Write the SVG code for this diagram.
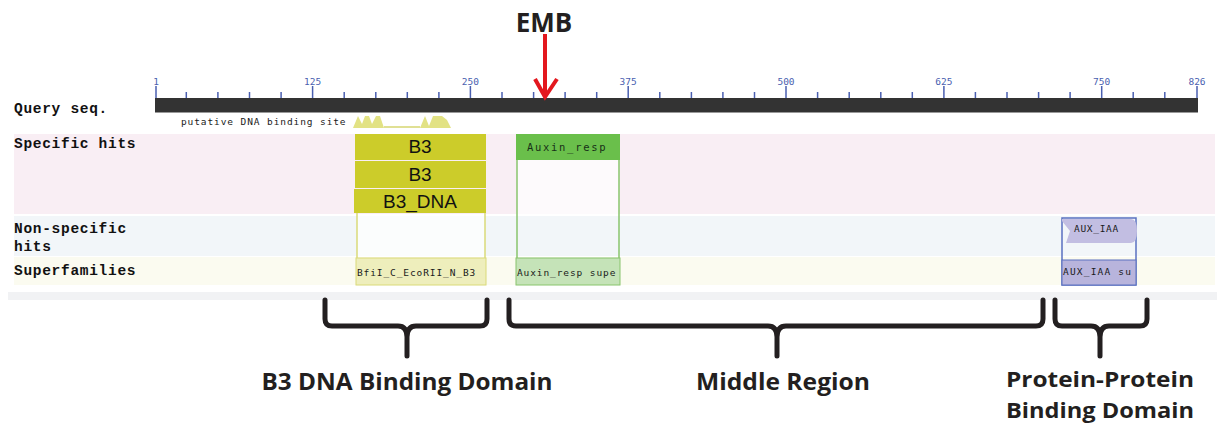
<svg xmlns="http://www.w3.org/2000/svg" width="1217" height="425" viewBox="0 0 1217 425">
<style>
.lab{font-family:"Liberation Mono","DejaVu Sans Mono",monospace;font-weight:bold;font-size:14.5px;letter-spacing:0.7px;fill:#111}
.tk{stroke:#4a5fb0;stroke-width:1.5}
.tl{font-family:"DejaVu Sans Mono","Liberation Mono",monospace;font-size:9.5px;fill:#4a5fb0;text-anchor:middle}
.px{font-family:"DejaVu Sans Mono","Liberation Mono",monospace;font-size:10px;fill:#1a1a1a}
.big{font-family:"Liberation Sans",Arial,sans-serif;font-size:19px;fill:#111;text-anchor:middle}
.cap{font-family:"Open Sans","Liberation Sans",sans-serif;font-weight:bold;font-size:23px;fill:#231f20;text-anchor:middle}
.br{fill:none;stroke:#231f20;stroke-width:5;stroke-linecap:round;stroke-linejoin:round}
</style>
<rect width="1217" height="425" fill="#fff"/>
<g id="background">
<rect x="14" y="134" width="1201" height="80" fill="#f9eef4"/>
<rect x="14" y="216" width="1201" height="40" fill="#f2f6f9"/>
<rect x="14" y="257" width="1201" height="28" fill="#fbfbf0"/>
<rect x="8" y="292" width="1209" height="8" fill="#f1f2f4"/>
<text class="lab" x="14" y="113">Query seq.</text>
<text class="lab" x="14" y="148">Specific hits</text>
<text class="lab" x="14" y="233">Non-specific</text>
<text class="lab" x="14" y="251">hits</text>
<text class="lab" x="14" y="275">Superfamilies</text>
</g>
<g id="query-bar">
<rect x="155" y="98" width="1043" height="14" fill="#333"/>
<line x1="155" y1="112.5" x2="1198" y2="112.5" stroke="#999" stroke-width="1"/>
<g class="tk">
<line x1="156" y1="86" x2="156" y2="98"/><line x1="312.6" y1="86" x2="312.6" y2="98"/><line x1="470.4" y1="86" x2="470.4" y2="98"/><line x1="628.2" y1="86" x2="628.2" y2="98"/><line x1="786" y1="86" x2="786" y2="98"/><line x1="943.9" y1="86" x2="943.9" y2="98"/><line x1="1101.7" y1="86" x2="1101.7" y2="98"/><line x1="1197" y1="86" x2="1197" y2="98"/>
<line x1="186.3" y1="92" x2="186.3" y2="98"/><line x1="217.9" y1="92" x2="217.9" y2="98"/><line x1="249.5" y1="92" x2="249.5" y2="98"/><line x1="281.1" y1="92" x2="281.1" y2="98"/>
<line x1="344.2" y1="92" x2="344.2" y2="98"/><line x1="375.8" y1="92" x2="375.8" y2="98"/><line x1="407.3" y1="92" x2="407.3" y2="98"/><line x1="438.9" y1="92" x2="438.9" y2="98"/>
<line x1="502" y1="92" x2="502" y2="98"/><line x1="533.6" y1="92" x2="533.6" y2="98"/><line x1="565.1" y1="92" x2="565.1" y2="98"/><line x1="596.7" y1="92" x2="596.7" y2="98"/>
<line x1="659.8" y1="92" x2="659.8" y2="98"/><line x1="691.4" y1="92" x2="691.4" y2="98"/><line x1="722.9" y1="92" x2="722.9" y2="98"/><line x1="754.5" y1="92" x2="754.5" y2="98"/>
<line x1="817.6" y1="92" x2="817.6" y2="98"/><line x1="849.2" y1="92" x2="849.2" y2="98"/><line x1="880.8" y1="92" x2="880.8" y2="98"/><line x1="912.3" y1="92" x2="912.3" y2="98"/>
<line x1="975.4" y1="92" x2="975.4" y2="98"/><line x1="1007" y1="92" x2="1007" y2="98"/><line x1="1038.6" y1="92" x2="1038.6" y2="98"/><line x1="1070.1" y1="92" x2="1070.1" y2="98"/>
<line x1="1133.2" y1="92" x2="1133.2" y2="98"/><line x1="1164.8" y1="92" x2="1164.8" y2="98"/>
</g>
<text class="tl" x="156" y="85">1</text><text class="tl" x="312.6" y="85">125</text><text class="tl" x="470.4" y="85">250</text><text class="tl" x="628.2" y="85">375</text><text class="tl" x="786" y="85">500</text><text class="tl" x="943.9" y="85">625</text><text class="tl" x="1101.7" y="85">750</text><text class="tl" x="1197" y="85">826</text>
</g>
<g id="dna-binding-site">
<text class="px" x="181" y="125" style="font-size:9.5px;letter-spacing:0.9px">putative DNA binding site</text>
<path d="M353,128 L358,116 L362,124 L365,116 L369,116 L372,124 L376,116 L380,116 L384,128 L420,128 L425,116 L429,126 L433,116 L438,116 L442,116 L447,120 L451,128 Z" fill="#e2e284"/>
<line x1="384" y1="127" x2="420" y2="127" stroke="#d6d670" stroke-width="1.5"/>
</g>
<g id="B3-hits">
<rect x="357" y="216" width="128" height="40" fill="#fbfdfd"/>
<line x1="357" y1="213" x2="357" y2="285" stroke="#dada78" stroke-width="1.5"/>
<line x1="485" y1="213" x2="485" y2="285" stroke="#dada78" stroke-width="1.5"/>
<rect x="355" y="134" width="131" height="26" fill="#cccc2a"/>
<rect x="355" y="161" width="131" height="27" fill="#cccc2a"/>
<rect x="354" y="189" width="132" height="24" fill="#cccc2a"/>
<text class="big" x="420" y="153">B3</text>
<text class="big" x="420" y="181">B3</text>
<text class="big" x="420" y="208">B3_DNA</text>
<rect x="356" y="258" width="130" height="27" fill="#eeeebc" stroke="#dada78"/>
<text class="px" x="357" y="276" style="font-size:9.5px;letter-spacing:0.9px">BfiI_C_EcoRII_N_B3</text>
</g>
<g id="Auxin-resp-hits">
<rect x="517" y="160" width="102" height="54" fill="#fdfafc"/>
<line x1="517" y1="134" x2="517" y2="285" stroke="#88c46c" stroke-width="1.5"/>
<line x1="619" y1="134" x2="619" y2="285" stroke="#88c46c" stroke-width="1.5"/>
<rect x="516" y="134" width="104" height="26" fill="#6abf4b"/>
<text class="px" x="527" y="151" style="font-size:10.5px;letter-spacing:1.7px;fill:#183018">Auxin_resp</text>
<rect x="516" y="258" width="104" height="27" fill="#c5e3b8" stroke="#88c46c"/>
<text class="px" x="517" y="276" style="font-size:9.5px;letter-spacing:0.9px">Auxin_resp supe</text>
</g>
<g id="AUX-IAA-hits">
<rect x="1062" y="218" width="74" height="67" fill="none" stroke="#5a70c0" stroke-width="1.5"/>
<path d="M1062,219 H1131 Q1137,219 1137,231 Q1137,243 1131,243 H1066 L1070,231 L1062,221 Z" fill="#c2bee2"/>
<text class="px" x="1074" y="232" style="font-size:9.5px;letter-spacing:0.7px">AUX_IAA</text>
<rect x="1062" y="260" width="74" height="25" fill="#b8b4dc" stroke="#5a70c0" stroke-width="1"/>
<text class="px" x="1063" y="275" style="font-size:9.5px;letter-spacing:1.2px">AUX_IAA su</text>
</g>
<g id="EMB">
<text class="cap" x="544" y="32" style="font-size:26px">EMB</text>
<path d="M545,34 V97 M535,79 L545,97 L557,79" fill="none" stroke="#e3171e" stroke-width="4" stroke-linejoin="miter"/>
</g>
<g id="connectors">
<path class="br" d="M325,300 V319 Q325,326 332,326 H398 Q407,326 407,337 V356 M407,337 Q407,326 416,326 H480 Q487,326 487,319 V300"/>
<path class="br" d="M509,300 V319 Q509,326 516,326 H768 Q777,326 777,337 V356 M777,337 Q777,326 786,326 H1036 Q1043,326 1043,319 V300"/>
<path class="br" d="M1055,300 V319 Q1055,326 1062,326 H1091 Q1100,326 1100,337 V356 M1100,337 Q1100,326 1109,326 H1140 Q1147,326 1147,319 V300"/>
</g>
<g id="labels">
<text class="cap" x="407" y="390" textLength="291" lengthAdjust="spacingAndGlyphs">B3 DNA Binding Domain</text>
<text class="cap" x="783" y="390" textLength="174" lengthAdjust="spacingAndGlyphs">Middle Region</text>
<text class="cap" x="1100" y="387" style="font-size:22px" textLength="188" lengthAdjust="spacingAndGlyphs">Protein-Protein</text>
<text class="cap" x="1100" y="418" style="font-size:22px" textLength="188" lengthAdjust="spacingAndGlyphs">Binding Domain</text>
</g>
</svg>
